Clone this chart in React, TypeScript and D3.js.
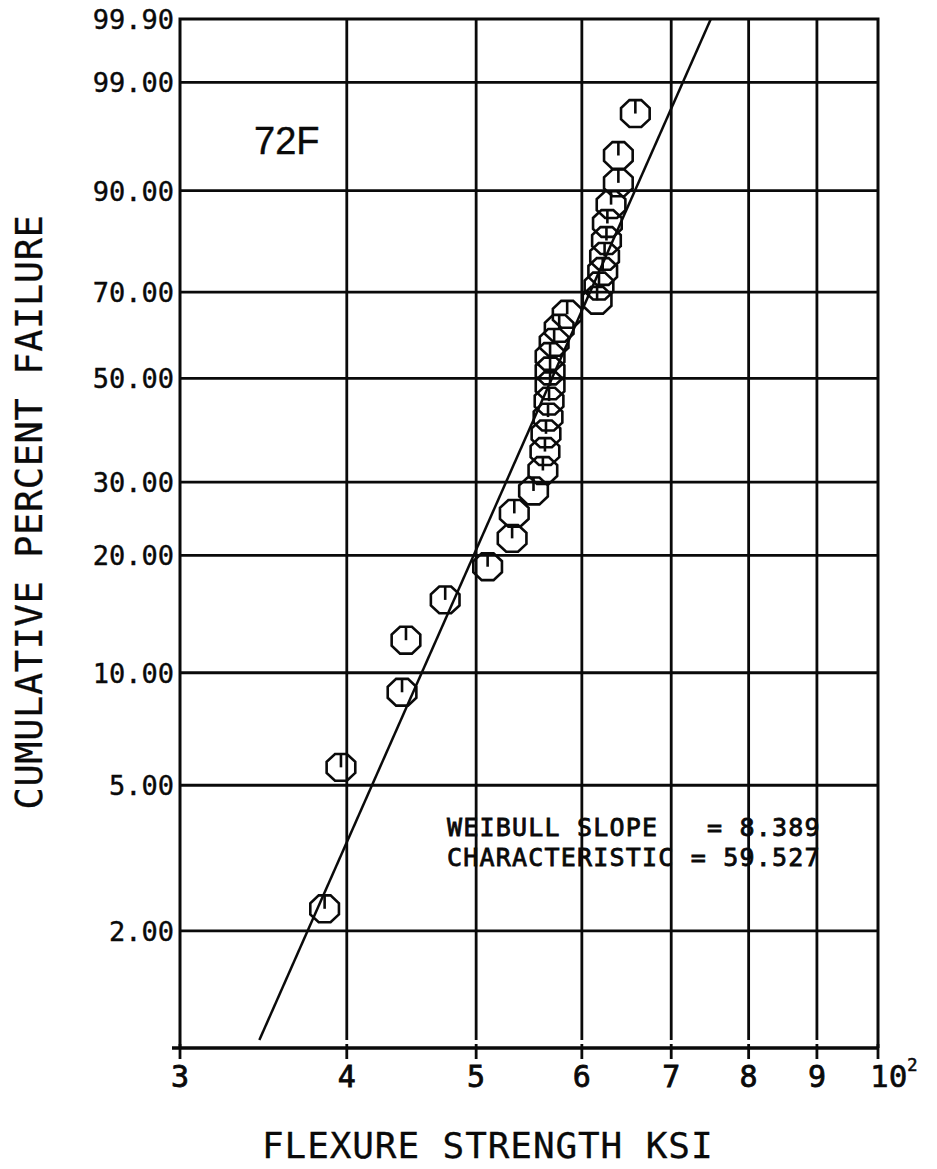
// Weibull probability plot of flexure strength at 72F
import { useRef, useEffect } from "react";
import * as d3 from "d3";

// cumulative percent failure (median ranks) for each specimen
const failurePct = [
  2.3, 5.59, 8.88, 12.17, 15.46, 18.75, 22.04, 25.33, 28.62, 31.91, 35.2,
  38.49, 41.78, 45.07, 48.36, 51.64, 54.93, 58.22, 61.51, 64.8, 68.09, 71.38,
  74.67, 77.96, 81.25, 84.54, 87.83, 91.12, 94.41, 97.7,
];
// flexure strength, ksi
const strengthKsi = [
  38.5, 39.6, 44.0, 44.3, 47.4, 51.0, 53.2, 53.4, 55.2, 56.1, 56.3, 56.4,
  56.6, 56.7, 56.8, 56.8, 56.8, 57.2, 57.7, 58.5, 61.6, 61.8, 62.2, 62.4,
  62.6, 62.7, 63.1, 63.9, 63.9, 65.8,
];

// y axis ticks (percent) and their printed labels
const yTickValues = [99.9, 99, 90, 70, 50, 30, 20, 10, 5, 2];
const yTickLabels = ["99.90", "99.00", "90.00", "70.00", "50.00", "30.00", "20.00", "10.00", "5.00", "2.00"];
// x axis ticks (ksi) and labels
const xTickValues = [30, 40, 50, 60, 70, 80, 90, 100];
const xTickLabels = ["3", "4", "5", "6", "7", "8", "9", "10"];

// fitted parameters
const weibullSlope = 8.389;
const characteristic = 59.527;

const W = 937;
const H = 1169;
const MONO = "'DejaVu Sans Mono', monospace";

// weibull transform of a percent value
const wb = (p) => Math.log(-Math.log(1 - p / 100));

export default function App() {
  const ref = useRef(null);

  useEffect(() => {
    document.body.style.margin = "0";
    const svg = d3.select(ref.current);
    svg.selectAll("*").remove();

    const left = 180;
    const right = 878;
    const top = 19;
    const gridBottom = 1040;
    const axisY = 1048;

    const x = d3.scaleLog().domain([30, 100]).range([left, right]);
    const y = d3.scaleLinear().domain([wb(1), wb(99.9)]).range([gridBottom, top]);

    svg.append("rect").attr("width", W).attr("height", H).attr("fill", "#fff");

    const g = svg.append("g").attr("stroke", "#0a0a0a").attr("fill", "none");

    // vertical grid lines
    xTickValues.slice(1, -1).forEach((v) => {
      g.append("line")
        .attr("x1", x(v)).attr("x2", x(v))
        .attr("y1", top).attr("y2", gridBottom)
        .attr("stroke-width", 2.8);
    });

    // horizontal grid lines
    yTickValues.slice(1).forEach((v) => {
      g.append("line")
        .attr("x1", left).attr("x2", right)
        .attr("y1", y(wb(v))).attr("y2", y(wb(v)))
        .attr("stroke-width", 2.8);
    });

    // frame: top, left, right
    g.append("path")
      .attr("d", `M${left},${axisY}V${y(wb(99.9))}H${right}V${axisY}`)
      .attr("stroke-width", 3);

    // bottom axis and its ticks
    g.append("line")
      .attr("x1", left - 8).attr("x2", right)
      .attr("y1", axisY).attr("y2", axisY)
      .attr("stroke-width", 3.4);
    xTickValues.forEach((v) => {
      g.append("line")
        .attr("x1", x(v)).attr("x2", x(v))
        .attr("y1", axisY - 4).attr("y2", axisY + 11)
        .attr("stroke-width", 2.8);
    });

    // fitted weibull line, from 1% to 99.9%
    const fitX = (p) => characteristic * Math.pow(-Math.log(1 - p / 100), 1 / weibullSlope);
    g.append("line")
      .attr("x1", x(fitX(1))).attr("y1", y(wb(1)))
      .attr("x2", x(fitX(99.9))).attr("y2", y(wb(99.9)))
      .attr("stroke-width", 2.5);

    // octagon markers with a tick from the top down to the centre
    const rx = 15.5;
    const ry = 14.5;
    const octagon = d3.range(8).map((k) => {
      const a = Math.PI / 8 + (k * Math.PI) / 4;
      return [rx * Math.cos(a), ry * Math.sin(a)];
    });
    const octPath = d3.line().curve(d3.curveLinearClosed);
    failurePct.forEach((p, i) => {
      const cx = x(strengthKsi[i]);
      const cy = y(wb(p));
      const m = g.append("g").attr("transform", `translate(${cx},${cy})`);
      m.append("path").attr("d", octPath(octagon)).attr("stroke-width", 2.6);
      m.append("line")
        .attr("x1", 0).attr("x2", 0)
        .attr("y1", -ry * Math.cos(Math.PI / 8)).attr("y2", 0)
        .attr("stroke-width", 2.6);
    });

    const t = svg.append("g").attr("fill", "#0a0a0a").attr("stroke", "#0a0a0a");

    // y tick labels
    yTickValues.forEach((v, i) => {
      t.append("text")
        .attr("x", left - 6)
        .attr("y", y(wb(v)) + 10)
        .attr("text-anchor", "end")
        .attr("stroke-width", 0.4)
        .style("font-family", MONO)
        .style("font-size", "27px")
        .text(yTickLabels[i]);
    });

    // x tick labels
    xTickValues.forEach((v, i) => {
      if (v === 100) {
        const lbl = t.append("text")
          .attr("x", x(v) - 8)
          .attr("y", axisY + 39)
          .attr("stroke-width", 0.6)
          .style("font-family", MONO)
          .style("font-size", "31px")
          .text(xTickLabels[i]);
        lbl.append("tspan")
          .attr("dy", -16)
          .style("font-size", "17px")
          .text("2");
      } else {
        t.append("text")
          .attr("x", x(v))
          .attr("y", axisY + 39)
          .attr("text-anchor", "middle")
          .attr("stroke-width", 0.8)
          .style("font-family", MONO)
          .style("font-size", "30px")
          .text(xTickLabels[i]);
      }
    });

    // axis titles
    t.append("text")
      .attr("x", 262)
      .attr("y", 1158)
      .attr("stroke-width", 0.3)
      .style("font-family", MONO)
      .style("font-size", "36px")
      .style("letter-spacing", "0.9px")
      .text("FLEXURE STRENGTH KSI");

    t.append("text")
      .attr("transform", "translate(42,512) rotate(-90)")
      .attr("text-anchor", "middle")
      .attr("stroke-width", 0.3)
      .style("font-family", MONO)
      .style("font-size", "37px")
      .style("letter-spacing", "0.6px")
      .text("CUMULATIVE PERCENT FAILURE");

    // temperature label
    t.append("text")
      .attr("x", 254)
      .attr("y", 154)
      .attr("stroke-width", 0.4)
      .style("font-family", "'Liberation Sans', sans-serif")
      .style("font-size", "38px")
      .text("72F");

    // fit summary
    const summary = [
      `WEIBULL SLOPE   = ${weibullSlope.toFixed(3)}`,
      `CHARACTERISTIC = ${characteristic.toFixed(3)}`,
    ];
    summary.forEach((s, i) => {
      t.append("text")
        .attr("x", 447)
        .attr("y", 836 + i * 30)
        .attr("stroke-width", 0.8)
        .style("font-family", MONO)
        .style("font-size", "25px")
        .style("letter-spacing", "1.2px")
        .style("white-space", "pre")
        .text(s);
    });
  }, []);

  return <svg ref={ref} width={W} height={H} style={{ display: "block" }}></svg>;
}
